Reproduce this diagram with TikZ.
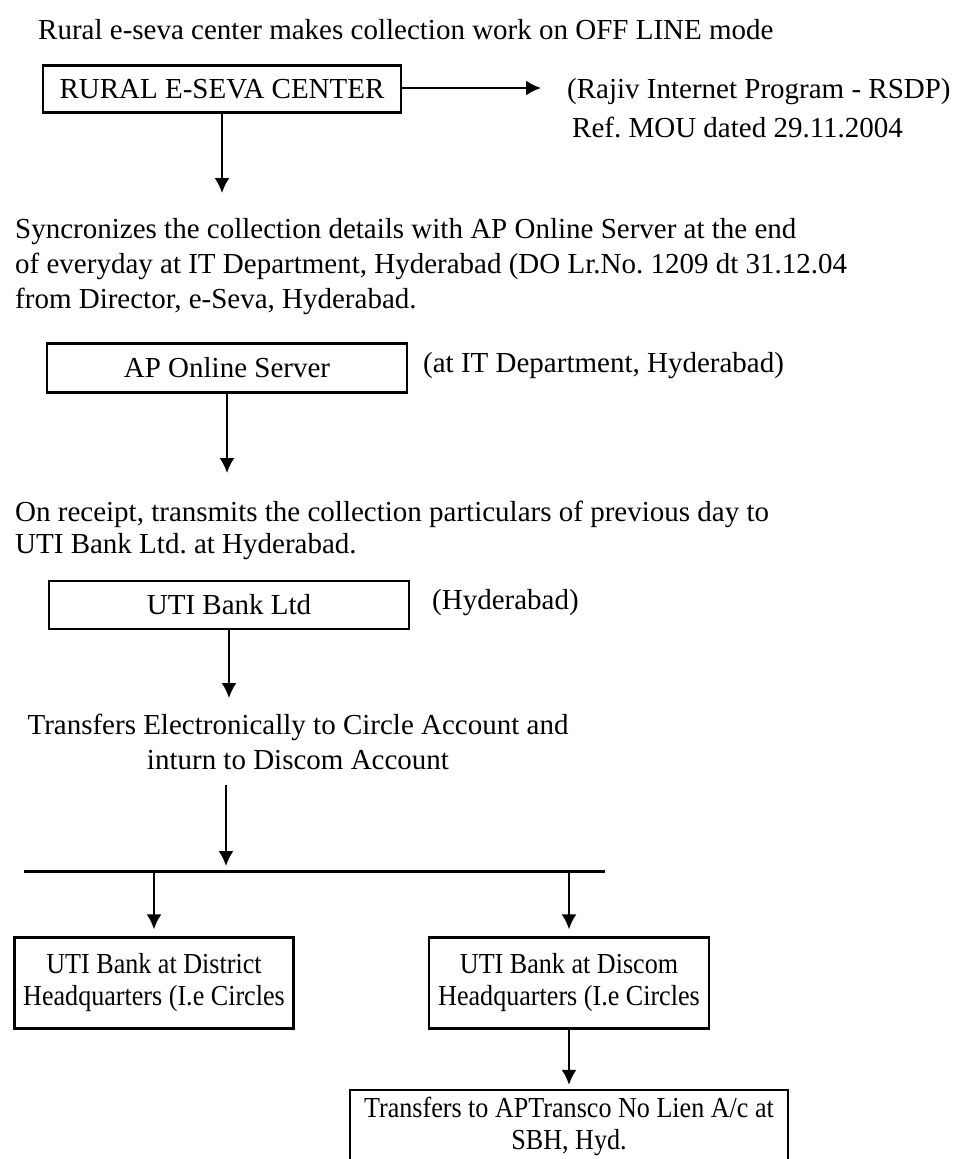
\documentclass[tikz,border=0pt]{standalone}
\usepackage{fontspec}
\setmainfont{Liberation Serif}
\newfontfamily\narrowserif[FakeStretch=0.9]{Liberation Serif}
\usetikzlibrary{arrows.meta}
\frenchspacing

\tikzset{
  box/.style={draw, line width=2.4pt, inner sep=0pt, align=center},
  txt/.style={inner sep=0pt, anchor=west, align=left},
  narrowbox/.style={box, font=\narrowserif\fontsize{29}{32}\selectfont},
  link/.style={line width=2pt, -{Latex[length=15pt,width=15pt]}},
  bar/.style={line width=3pt},
}

\begin{document}
\begin{tikzpicture}[x=1pt, y=-1pt, font=\fontsize{29}{33}\selectfont]
\useasboundingbox (0,0) rectangle (960,1159);
%\draw [help lines, step=50] (0,0) grid (960,1159);
\node[txt] (head) at (38,30) {Rural e-seva center makes collection work on OFF LINE mode};

\node[box, minimum width=358pt, minimum height=47pt] (rural) at (222,89) {RURAL E-SEVA CENTER};
\node[txt] (rajiv) at (567,92) {(Rajiv Internet Program - RSDP)};
\node[txt] (mou) at (572,127) {Ref. MOU dated 29.11.2004};

\node[txt, font=\fontsize{29}{35}\selectfont] (sync) at (15,267) {Syncronizes the collection details with AP Online Server at the end\\
of everyday at IT Department, Hyderabad (DO Lr.No. 1209 dt 31.12.04\\
from Director, e-Seva, Hyderabad.};

\node[box, minimum width=360pt, minimum height=49pt] (server) at (227,368) {AP Online Server};
\node[txt] (itdept) at (423,366) {(at IT Department, Hyderabad)};

\node[txt, font=\fontsize{29}{32}\selectfont] (receipt) at (15,530) {On receipt, transmits the collection particulars of previous day to\\
UTI Bank Ltd. at Hyderabad.};

\node[box, minimum width=360pt, minimum height=48pt] (uti) at (229,605) {UTI Bank Ltd};
\node[txt] (hyd) at (432,603) {(Hyderabad)};

\node[inner sep=0pt, align=center, font=\fontsize{29}{35}\selectfont] (transfer) at (298,742)
  {Transfers Electronically to Circle Account and\\inturn to Discom Account};

\node[narrowbox, minimum width=279pt, minimum height=91pt] (district) at (154,983) {UTI Bank at District\\Headquarters (I.e Circles};
\node[narrowbox, minimum width=280pt, minimum height=91pt] (discom) at (569,983) {UTI Bank at Discom\\Headquarters (I.e Circles};
\node[narrowbox, minimum width=438pt, minimum height=72pt] (aptransco) at (569,1126)
  {Transfers to APTransco No Lien A/c at\\SBH, Hyd.};

\coordinate (r1) at (541,88);
\coordinate (d1) at (222,193);
\coordinate (d2) at (227,473);
\coordinate (d3) at (229,698);
\coordinate (d4s) at (226,785);
\coordinate (d4) at (226,866);
\coordinate (barL) at (24,871);
\coordinate (barR) at (605,871);
\coordinate (b1) at (154,871);
\coordinate (b2) at (569,871);

\draw[link] (rural.east |- r1) -- (r1);
\draw[link] (rural) -- (d1);
\draw[link] (server) -- (d2);
\draw[link] (uti) -- (d3);
\draw[link] (d4s) -- (d4);
\draw[bar] (barL) -- (barR);
\draw[link, shorten >=7pt] (b1) -- (district);
\draw[link, shorten >=7pt] (b2) -- (discom);
\draw[link, shorten >=4pt] (discom) -- (aptransco);

\end{tikzpicture}
\end{document}
